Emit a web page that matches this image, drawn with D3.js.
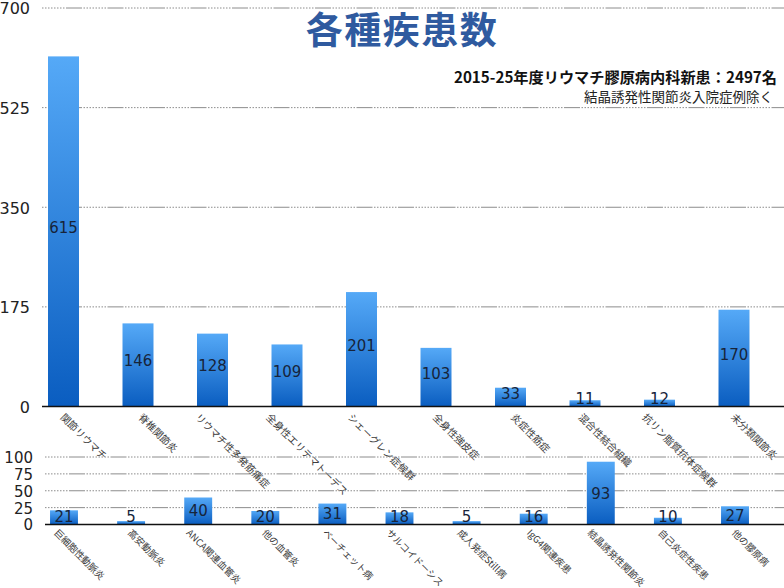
<!DOCTYPE html>
<html><head><meta charset="utf-8">
<script src="https://cdn.jsdelivr.net/npm/d3@7"></script>
<style>
html,body{margin:0;padding:0;background:#fff;}
svg{display:block;}
</style></head>
<body>
<script>
const topCategories = ["関節リウマチ","脊椎関節炎","リウマチ性多発筋痛症","全身性エリテマトーデス","シェーグレン症候群","全身性強皮症","炎症性筋症","混合性結合組織","抗リン脂質抗体症候群","未分類関節炎"];
const topValues = [615,146,128,109,201,103,33,11,12,170];
const topTicks = [0,175,350,525,700];

const bottomCategories = ["巨細胞性動脈炎","高安動脈炎","ANCA関連血管炎","他の血管炎","ベーチェット病","サルコイドーシス","成人発症Still病","IgG4関連疾患","結晶誘発性関節炎","自己炎症性疾患","他の膠原病"];
const bottomValues = [21,5,40,20,31,18,5,16,93,10,27];
const bottomTicks = [0,25,50,75,100];

const titleText = "各種疾患数";
const subtitle1 = "2015-25年度リウマチ膠原病内科新患：2497名";
const subtitle2 = "結晶誘発性関節炎入院症例除く";

const W = 784, H = 588;
const svg = d3.select("body").append("svg").attr("width", W).attr("height", H);
const defs = svg.append("defs");
const grad = defs.append("linearGradient").attr("id","barGrad")
  .attr("x1",0).attr("y1",0).attr("x2",0).attr("y2",1);
grad.append("stop").attr("offset","0%").attr("stop-color","#55a9f7");
grad.append("stop").attr("offset","100%").attr("stop-color","#0a5dc0");

const gridDash = "1.5 1.5 1.5 1.5 1.5 1.5 1.5 1.5 1.5 1.5 1.5 1.5 1.5 1.5 1.5 1.5 16 1.5";
const numFont = "'DejaVu Sans', sans-serif";
const cjkFont = "'Noto Sans CJK JP', sans-serif";

function panel(cfg) {
  const {cats, vals, ticks, yDomain, yRange, xRange, gridX0, tickRight, tickSize, labelK, labelDy, labelSize} = cfg;
  const x = d3.scaleBand().domain(cats).range(xRange).paddingInner(0.584).paddingOuter(0.292);
  const y = d3.scaleLinear().domain(yDomain).range(yRange);
  const g = svg.append("g");
  g.selectAll("line.grid").data(ticks.filter(t => t !== 0)).join("line")
    .attr("x1", gridX0).attr("x2", W)
    .attr("y1", d => y(d)).attr("y2", d => y(d))
    .attr("stroke", "#8c8c8c").attr("stroke-width", 1)
    .attr("stroke-dasharray", gridDash);
  const axis = d3.axisLeft(y).tickValues(ticks).tickSize(0).tickPadding(0).tickFormat(d3.format("d"));
  const ag = g.append("g").attr("transform", `translate(${tickRight},0)`).call(axis);
  ag.select(".domain").remove();
  ag.selectAll("text").attr("font-family", numFont).attr("font-size", tickSize)
    .attr("fill", "#222").attr("dy", "0.36em");
  g.selectAll("rect.bar").data(vals).join("rect")
    .attr("x", (d,i) => x(cats[i]))
    .attr("width", x.bandwidth())
    .attr("y", d => y(d))
    .attr("height", d => y(0) - y(d))
    .attr("fill", "url(#barGrad)");
  g.append("line").attr("x1", gridX0).attr("x2", W)
    .attr("y1", y(0)).attr("y2", y(0)).attr("stroke", "#111").attr("stroke-width", 1.5);
  g.selectAll("text.val").data(vals).join("text")
    .attr("x", (d,i) => x(cats[i]) + x.bandwidth()/2)
    .attr("y", d => Math.min((y(d) + y(0))/2 + cfg.valShift, y(0) - cfg.valClamp))
    .attr("dy", "0.36em")
    .attr("text-anchor", "middle")
    .attr("font-family", numFont).attr("font-size", 15)
    .attr("fill", "#17243a")
    .text(d => d);
  const lab = g.selectAll("text.cat").data(cats).join("text")
    .attr("font-family", cjkFont).attr("font-size", labelSize)
    .attr("fill", "#3a3a3a")
    .text(d => d);
  lab.each(function(d) {
    const len = this.getComputedTextLength();
    const cx = x(d) + x.bandwidth()/2;
    const ax = cx + labelK - len * 0.7071 / 2;
    const ay = y(0) + labelDy;
    d3.select(this).attr("transform", `translate(${ax},${ay}) rotate(45)`);
  });
}

panel({cats: topCategories, vals: topValues, ticks: topTicks,
  yDomain: [0,700], yRange: [406.5, 8], xRange: [26.25, 771.25],
  gridX0: 42, tickRight: 30, tickSize: 16, labelK: 17.5, labelDy: 11.5, labelSize: 10,
  valShift: -4, valClamp: 8});

panel({cats: bottomCategories, vals: bottomValues, ticks: bottomTicks,
  yDomain: [0,100], yRange: [524.5, 457], xRange: [30.45, 768.55],
  gridX0: 45, tickRight: 33, tickSize: 15, labelK: 13, labelDy: 9, labelSize: 9.5,
  valShift: 0, valClamp: 7.5});

svg.append("text").attr("x", 402).attr("y", 43.5).attr("text-anchor","middle")
  .attr("font-family", cjkFont).attr("font-weight","bold").attr("font-size",37)
  .attr("letter-spacing", 1.5)
  .attr("fill","#2f5a9f").text(titleText);
svg.append("text").attr("x", 777).attr("y", 83).attr("text-anchor","end")
  .attr("font-family", cjkFont).attr("font-weight","bold").attr("font-size",15.2)
  .attr("fill","#111").text(subtitle1);
svg.append("text").attr("x", 773).attr("y", 102).attr("text-anchor","end")
  .attr("font-family", cjkFont).attr("font-size",13.5)
  .attr("fill","#222").text(subtitle2);
</script>
</body></html>
